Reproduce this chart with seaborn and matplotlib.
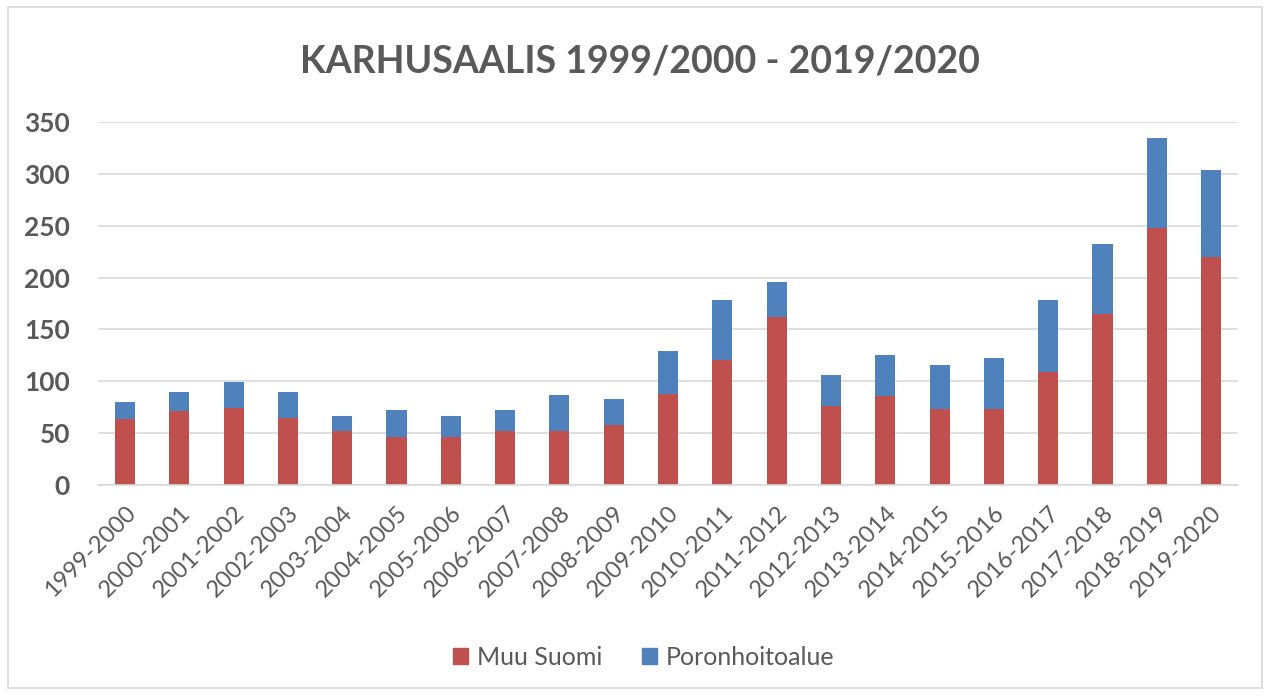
import matplotlib
matplotlib.use("Agg")
import matplotlib.pyplot as plt
import seaborn as sns
import pandas as pd
from matplotlib.patches import Rectangle

seasons = ["1999-2000", "2000-2001", "2001-2002", "2002-2003", "2003-2004", "2004-2005",
           "2005-2006", "2006-2007", "2007-2008", "2008-2009", "2009-2010", "2010-2011",
           "2011-2012", "2012-2013", "2013-2014", "2014-2015", "2015-2016", "2016-2017",
           "2017-2018", "2018-2019", "2019-2020"]
muu_suomi = [64, 71, 74, 65, 52, 46, 46, 52, 52, 58, 88, 121, 162, 76, 86, 73, 73, 109, 165, 248, 220]
poronhoitoalue = [16, 19, 25, 25, 15, 26, 21, 20, 35, 25, 41, 57, 34, 30, 39, 43, 49, 69, 67, 86, 84]
title = "KARHUSAALIS 1999/2000 - 2019/2020"
yticks = [0, 50, 100, 150, 200, 250, 300, 350]

RED = "#C0504D"
BLUE = "#4F81BD"
TXT = "#595959"

sns.set_theme(style="white")
plt.rcParams["font.family"] = ["Lato", "DejaVu Sans"]

df = pd.DataFrame({"season": seasons, "Muu Suomi": muu_suomi, "Poronhoitoalue": poronhoitoalue})
df["total"] = df["Muu Suomi"] + df["Poronhoitoalue"]

fig = plt.figure(figsize=(12.7, 6.96), dpi=100)
ax = fig.add_axes([0.077, 0.303, 0.898, 0.522])

sns.barplot(data=df, x="season", y="total", color=BLUE, width=0.37, saturation=1, ax=ax,
            linewidth=0, edgecolor="none", label="_nolegend_")
sns.barplot(data=df, x="season", y="Muu Suomi", color=RED, width=0.37, saturation=1, ax=ax,
            linewidth=0, edgecolor="none", label="_nolegend_")

ax.set_ylim(0, 350)
ax.set_xlim(-0.5, len(seasons) - 0.5)
ax.set_yticks(yticks)
ax.set_yticklabels([str(v) for v in yticks], fontsize=19, color=TXT, fontweight="bold")
ax.set_xticks(range(len(seasons)))
ax.set_xticklabels(seasons, rotation=45, ha="right", rotation_mode="anchor", fontsize=17, color=TXT)
ax.tick_params(axis="both", length=0)
ax.tick_params(axis="y", pad=20)
ax.tick_params(axis="x", pad=12)
ax.set_xlabel("")
ax.set_ylabel("")
ax.yaxis.grid(True, color="#D9D9D9", linewidth=1.2)
ax.set_axisbelow(True)
for s in ["top", "right", "left"]:
    ax.spines[s].set_visible(False)
ax.spines["bottom"].set_color("#D9D9D9")
ax.spines["bottom"].set_linewidth(1.2)

fig.text(0.504, 0.911, title, ha="center", va="center", fontsize=27, color=TXT, fontweight="bold")

handles = [Rectangle((0, 0), 1, 1, color=RED), Rectangle((0, 0), 1, 1, color=BLUE)]
leg = fig.legend(handles, ["Muu Suomi", "Poronhoitoalue"], loc="center", bbox_to_anchor=(0.507, 0.056),
                 ncol=2, frameon=False, fontsize=18, handlelength=0.6, handleheight=0.6,
                 columnspacing=1.6, handletextpad=0.35)
for t in leg.get_texts():
    t.set_color(TXT)

fig.patches.append(Rectangle((0.006, 0.012), 0.988, 0.978, transform=fig.transFigure,
                             fill=False, edgecolor="#D9D9D9", linewidth=1.2))

fig.savefig("out.png", dpi=100)
